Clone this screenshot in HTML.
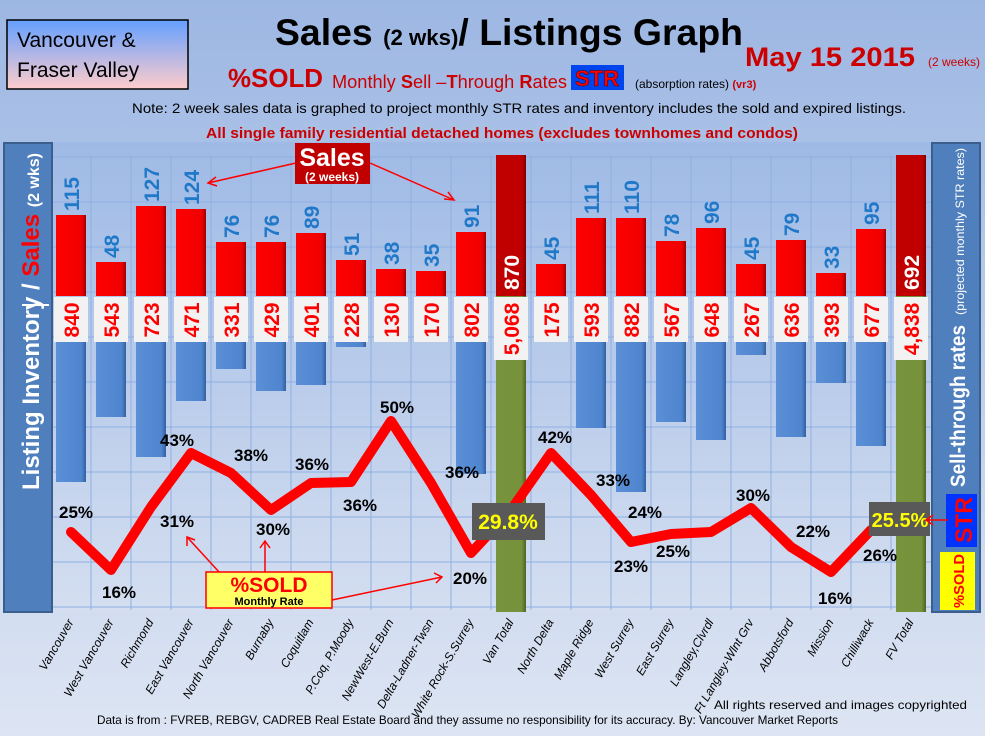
<!DOCTYPE html>
<html><head><meta charset="utf-8"><style>
html,body{margin:0;padding:0;width:985px;height:736px;overflow:hidden;}
svg{display:block;font-family:"Liberation Sans",sans-serif;}
</style></head><body>
<svg width="985" height="736" viewBox="0 0 985 736" xmlns="http://www.w3.org/2000/svg">
<defs>
<linearGradient id="bg" x1="0" y1="0" x2="0" y2="1"><stop offset="0" stop-color="#9db7e3"/><stop offset="1" stop-color="#dde5f3"/></linearGradient>
<linearGradient id="plot" x1="0" y1="0" x2="0" y2="1"><stop offset="0" stop-color="#9fbae6"/><stop offset="1" stop-color="#d4def0"/></linearGradient>
<linearGradient id="tl" x1="0" y1="0" x2="0" y2="1"><stop offset="0" stop-color="#64a0ff"/><stop offset="1" stop-color="#ffcccc"/></linearGradient>
<linearGradient id="red" x1="0" y1="0" x2="1" y2="0"><stop offset="0" stop-color="#ff0000"/><stop offset="0.85" stop-color="#f00000"/><stop offset="1" stop-color="#a00000"/></linearGradient>
<linearGradient id="blue" x1="0" y1="0" x2="1" y2="0"><stop offset="0" stop-color="#5b8fd6"/><stop offset="0.85" stop-color="#4f85cf"/><stop offset="1" stop-color="#34609e"/></linearGradient>
<linearGradient id="dred" x1="0" y1="0" x2="1" y2="0"><stop offset="0" stop-color="#c00000"/><stop offset="0.85" stop-color="#c00000"/><stop offset="1" stop-color="#800000"/></linearGradient>
<linearGradient id="grn" x1="0" y1="0" x2="1" y2="0"><stop offset="0" stop-color="#77933c"/><stop offset="0.85" stop-color="#76923b"/><stop offset="1" stop-color="#4f6226"/></linearGradient>
</defs>
<rect width="985" height="736" fill="url(#bg)"/>
<rect x="52" y="142" width="880" height="470" fill="url(#plot)"/>
<g stroke="#8fb0e2" stroke-width="1">
<line x1="52" y1="157" x2="932" y2="157"/><line x1="52" y1="202" x2="932" y2="202"/><line x1="52" y1="247" x2="932" y2="247"/><line x1="52" y1="292" x2="932" y2="292"/><line x1="52" y1="337" x2="932" y2="337"/><line x1="52" y1="382" x2="932" y2="382"/><line x1="52" y1="427" x2="932" y2="427"/><line x1="52" y1="472" x2="932" y2="472"/><line x1="52" y1="517" x2="932" y2="517"/><line x1="52" y1="562" x2="932" y2="562"/><line x1="52" y1="607" x2="932" y2="607"/>
<line x1="91" y1="155" x2="91" y2="610"/><line x1="131" y1="155" x2="131" y2="610"/><line x1="171" y1="155" x2="171" y2="610"/><line x1="211" y1="155" x2="211" y2="610"/><line x1="251" y1="155" x2="251" y2="610"/><line x1="291" y1="155" x2="291" y2="610"/><line x1="331" y1="155" x2="331" y2="610"/><line x1="371" y1="155" x2="371" y2="610"/><line x1="411" y1="155" x2="411" y2="610"/><line x1="451" y1="155" x2="451" y2="610"/><line x1="491" y1="155" x2="491" y2="610"/><line x1="531" y1="155" x2="531" y2="610"/><line x1="571" y1="155" x2="571" y2="610"/><line x1="611" y1="155" x2="611" y2="610"/><line x1="651" y1="155" x2="651" y2="610"/><line x1="691" y1="155" x2="691" y2="610"/><line x1="731" y1="155" x2="731" y2="610"/><line x1="771" y1="155" x2="771" y2="610"/><line x1="811" y1="155" x2="811" y2="610"/><line x1="851" y1="155" x2="851" y2="610"/><line x1="891" y1="155" x2="891" y2="610"/>
</g>

<g fill="url(#blue)">
<rect x="56" y="300" width="30" height="182"/><rect x="96" y="300" width="30" height="117"/><rect x="136" y="300" width="30" height="157"/><rect x="176" y="300" width="30" height="101"/><rect x="216" y="300" width="30" height="69"/><rect x="256" y="300" width="30" height="91"/><rect x="296" y="300" width="30" height="85"/><rect x="336" y="300" width="30" height="47"/><rect x="456" y="300" width="30" height="174"/><rect x="576" y="300" width="30" height="128"/><rect x="616" y="300" width="30" height="192"/><rect x="656" y="300" width="30" height="122"/><rect x="696" y="300" width="30" height="140"/><rect x="736" y="300" width="30" height="55"/><rect x="776" y="300" width="30" height="137"/><rect x="816" y="300" width="30" height="83"/><rect x="856" y="300" width="30" height="146"/>
</g>
<g fill="url(#red)">
<rect x="56" y="215" width="30" height="81"/><rect x="96" y="262" width="30" height="34"/><rect x="136" y="206" width="30" height="90"/><rect x="176" y="209" width="30" height="87"/><rect x="216" y="242" width="30" height="54"/><rect x="256" y="242" width="30" height="54"/><rect x="296" y="233" width="30" height="63"/><rect x="336" y="260" width="30" height="36"/><rect x="376" y="269" width="30" height="27"/><rect x="416" y="271" width="30" height="25"/><rect x="456" y="232" width="30" height="64"/><rect x="536" y="264" width="30" height="32"/><rect x="576" y="218" width="30" height="78"/><rect x="616" y="218" width="30" height="78"/><rect x="656" y="241" width="30" height="55"/><rect x="696" y="228" width="30" height="68"/><rect x="736" y="264" width="30" height="32"/><rect x="776" y="240" width="30" height="56"/><rect x="816" y="273" width="30" height="23"/><rect x="856" y="229" width="30" height="67"/>
</g>
<rect x="496" y="155" width="30" height="141" fill="url(#dred)"/><rect x="496" y="296" width="30" height="316" fill="url(#grn)"/>
<rect x="896" y="155" width="30" height="141" fill="url(#dred)"/><rect x="896" y="296" width="30" height="316" fill="url(#grn)"/>

<g font-size="21" font-weight="bold" fill="#1f78c8">
<text transform="translate(79,211) rotate(-90)">115</text><text transform="translate(119,258) rotate(-90)">48</text><text transform="translate(159,202) rotate(-90)">127</text><text transform="translate(199,205) rotate(-90)">124</text><text transform="translate(239,238) rotate(-90)">76</text><text transform="translate(279,238) rotate(-90)">76</text><text transform="translate(319,229) rotate(-90)">89</text><text transform="translate(359,256) rotate(-90)">51</text><text transform="translate(399,265) rotate(-90)">38</text><text transform="translate(439,267) rotate(-90)">35</text><text transform="translate(479,228) rotate(-90)">91</text><text transform="translate(559,260) rotate(-90)">45</text><text transform="translate(599,214) rotate(-90)">111</text><text transform="translate(639,214) rotate(-90)">110</text><text transform="translate(679,237) rotate(-90)">78</text><text transform="translate(719,224) rotate(-90)">96</text><text transform="translate(759,260) rotate(-90)">45</text><text transform="translate(799,236) rotate(-90)">79</text><text transform="translate(839,269) rotate(-90)">33</text><text transform="translate(879,225) rotate(-90)">95</text>
</g>
<g font-size="21" font-weight="bold" fill="#fff">
<text transform="translate(519,290) rotate(-90)">870</text><text transform="translate(919,290) rotate(-90)">692</text>
</g>
<g fill="#f2f2f2">
<rect x="54" y="297" width="34" height="45"/><rect x="94" y="297" width="34" height="45"/><rect x="134" y="297" width="34" height="45"/><rect x="174" y="297" width="34" height="45"/><rect x="214" y="297" width="34" height="45"/><rect x="254" y="297" width="34" height="45"/><rect x="294" y="297" width="34" height="45"/><rect x="334" y="297" width="34" height="45"/><rect x="374" y="297" width="34" height="45"/><rect x="414" y="297" width="34" height="45"/><rect x="454" y="297" width="34" height="45"/><rect x="494" y="297" width="34" height="63"/><rect x="534" y="297" width="34" height="45"/><rect x="574" y="297" width="34" height="45"/><rect x="614" y="297" width="34" height="45"/><rect x="654" y="297" width="34" height="45"/><rect x="694" y="297" width="34" height="45"/><rect x="734" y="297" width="34" height="45"/><rect x="774" y="297" width="34" height="45"/><rect x="814" y="297" width="34" height="45"/><rect x="854" y="297" width="34" height="45"/><rect x="894" y="297" width="34" height="63"/>
</g>
<g font-size="21" font-weight="bold" fill="#ff0000" text-anchor="middle">
<text transform="translate(79,320) rotate(-90)">840</text><text transform="translate(119,320) rotate(-90)">543</text><text transform="translate(159,320) rotate(-90)">723</text><text transform="translate(199,320) rotate(-90)">471</text><text transform="translate(239,320) rotate(-90)">331</text><text transform="translate(279,320) rotate(-90)">429</text><text transform="translate(319,320) rotate(-90)">401</text><text transform="translate(359,320) rotate(-90)">228</text><text transform="translate(399,320) rotate(-90)">130</text><text transform="translate(439,320) rotate(-90)">170</text><text transform="translate(479,320) rotate(-90)">802</text><text transform="translate(519,329) rotate(-90)">5,068</text><text transform="translate(559,320) rotate(-90)">175</text><text transform="translate(599,320) rotate(-90)">593</text><text transform="translate(639,320) rotate(-90)">882</text><text transform="translate(679,320) rotate(-90)">567</text><text transform="translate(719,320) rotate(-90)">648</text><text transform="translate(759,320) rotate(-90)">267</text><text transform="translate(799,320) rotate(-90)">636</text><text transform="translate(839,320) rotate(-90)">393</text><text transform="translate(879,320) rotate(-90)">677</text><text transform="translate(919,329) rotate(-90)">4,838</text>
</g>

<polyline points="71,532 111,570 151,507 191,453 231,473 271,510 311,483 351,482 391,421 431,483 471,553 511,510 551,453 591,495 631,542 671,534 711,532 751,508 791,547 831,572 871,530" fill="none" stroke="#ff0000" stroke-width="10" stroke-linejoin="round" stroke-linecap="round"/>
<g font-size="17" font-weight="bold" fill="#000" text-anchor="middle">
<text x="76" y="518">25%</text><text x="119" y="598">16%</text><text x="177" y="527">31%</text><text x="177" y="446">43%</text><text x="251" y="461">38%</text><text x="273" y="535">30%</text><text x="312" y="470">36%</text><text x="360" y="511">36%</text><text x="397" y="413">50%</text><text x="462" y="478">36%</text><text x="470" y="584">20%</text><text x="555" y="443">42%</text><text x="613" y="486">33%</text><text x="631" y="572">23%</text><text x="645" y="518">24%</text><text x="673" y="557">25%</text><text x="753" y="501">30%</text><text x="813" y="537">22%</text><text x="835" y="604">16%</text><text x="880" y="561">26%</text>
</g>
<rect x="472" y="503" width="73" height="37" fill="#595959"/>
<text x="508" y="529" font-size="21" font-weight="bold" fill="#ffff00" text-anchor="middle">29.8%</text>
<rect x="869" y="502" width="61" height="34" fill="#595959"/>
<text x="900" y="527" font-size="20" font-weight="bold" fill="#ffff00" text-anchor="middle">25.5%</text>

<rect x="4" y="143" width="48" height="469" fill="#4f7fbd" stroke="#3a5f8f" stroke-width="2"/>
<text transform="translate(39,490) rotate(-90)" font-size="24" font-weight="bold" fill="#fff" textLength="337" lengthAdjust="spacingAndGlyphs">Listing Inventory / <tspan fill="#ff0000">Sales</tspan> <tspan font-size="16">(2  wks)</tspan></text>
<rect x="932" y="143" width="48" height="469" fill="#4f7fbd" stroke="#3a5f8f" stroke-width="2"/>
<text transform="translate(965,487) rotate(-90)" font-size="21" font-weight="bold" fill="#fff" textLength="162" lengthAdjust="spacingAndGlyphs">Sell-through rates</text>
<text transform="translate(964,315) rotate(-90)" font-size="12" fill="#fff" textLength="167" lengthAdjust="spacingAndGlyphs">(projected monthly STR rates)</text>
<rect x="946" y="494" width="31" height="53" fill="#0033ff"/>
<text transform="translate(972,543) rotate(-90)" font-size="24" font-weight="bold" fill="#ff0000" textLength="46" lengthAdjust="spacingAndGlyphs">STR</text>
<rect x="940" y="552" width="35" height="58" fill="#ffff00"/>
<text transform="translate(964,608) rotate(-90)" font-size="15" font-weight="bold" fill="#ff0000" textLength="54" lengthAdjust="spacingAndGlyphs">%SOLD</text>
<line x1="49" y1="305" x2="22" y2="305" stroke="#fff" stroke-width="2"/>

<g stroke="#ff0000" stroke-width="1.5" fill="none">
<line x1="296" y1="163" x2="208" y2="183"/><polyline points="216,177 208,183 217,186"/>
<line x1="370" y1="163" x2="454" y2="200"/><polyline points="444,199 454,200 448,192"/>
<line x1="220" y1="573" x2="187" y2="537"/><polyline points="187,546 187,537 195,540"/>
<line x1="265" y1="572" x2="265" y2="541"/><polyline points="260,548 265,541 270,548"/>
<line x1="332" y1="600" x2="442" y2="577"/><polyline points="434,573 442,577 436,583"/>
<line x1="926" y1="520" x2="948" y2="520"/><polyline points="933,515 926,520 933,525"/>
</g>
<rect x="295" y="143" width="75" height="41" fill="#c00000"/>
<text x="332" y="166" font-size="25" font-weight="bold" fill="#fff" text-anchor="middle">Sales</text>
<text x="332" y="181" font-size="12" font-weight="bold" fill="#fff" text-anchor="middle">(2 weeks)</text>
<rect x="206" y="572" width="126" height="36" fill="#ffff66" stroke="#ff0000" stroke-width="1.5"/>
<text x="269" y="592" font-size="21" font-weight="bold" fill="#ff0000" text-anchor="middle">%SOLD</text>
<text x="269" y="605" font-size="11" font-weight="bold" fill="#000" text-anchor="middle">Monthly Rate</text>

<rect x="7" y="20" width="181" height="69" fill="url(#tl)" stroke="#000" stroke-width="1.5"/>
<text x="17" y="47" font-size="21" fill="#000">Vancouver &amp;</text>
<text x="17" y="77" font-size="21" fill="#000">Fraser Valley</text>
<text x="275" y="45" font-size="37" font-weight="bold" fill="#000" textLength="468" lengthAdjust="spacingAndGlyphs">Sales <tspan font-size="22">(2 wks)</tspan>/ Listings Graph</text>
<text x="745" y="66" font-size="27" font-weight="bold" fill="#cc0000" textLength="170" lengthAdjust="spacingAndGlyphs">May 15 2015</text>
<text x="928" y="66" font-size="12" fill="#cc0000">(2 weeks)</text>
<text x="228" y="87" font-size="26" font-weight="bold" fill="#cc0000" textLength="95" lengthAdjust="spacingAndGlyphs">%SOLD</text>
<text x="332" y="88" font-size="18" fill="#cc0000" textLength="235" lengthAdjust="spacingAndGlyphs">Monthly <tspan font-weight="bold">S</tspan>ell –<tspan font-weight="bold">T</tspan>hrough <tspan font-weight="bold">R</tspan>ates</text>
<rect x="571" y="65" width="53" height="25" fill="#0044ee"/>
<text x="597" y="86" font-size="22" font-weight="bold" fill="#ff0000" text-anchor="middle" stroke="#400" stroke-width="0.5">STR</text>
<text x="635" y="88" font-size="12" fill="#000">(absorption rates) <tspan fill="#cc0000" font-weight="bold" font-size="11">(vr3)</tspan></text>
<text x="132" y="113" font-size="14" fill="#000" textLength="774" lengthAdjust="spacingAndGlyphs">Note: 2 week sales data is graphed to project monthly STR rates and inventory includes the sold and expired listings.</text>
<text x="206" y="138" font-size="15" font-weight="bold" fill="#cc0000" textLength="592" lengthAdjust="spacingAndGlyphs">All single family residential detached homes (excludes townhomes and condos)</text>

<g font-size="12" font-style="italic" fill="#000" text-anchor="end">
<text transform="translate(74,622) rotate(-60)">Vancouver</text><text transform="translate(114,622) rotate(-60)">West Vancouver</text><text transform="translate(154,622) rotate(-60)">Richmond</text><text transform="translate(194,622) rotate(-60)">East Vancouver</text><text transform="translate(234,622) rotate(-60)">North Vancouver</text><text transform="translate(274,622) rotate(-60)">Burnaby</text><text transform="translate(314,622) rotate(-60)">Coquitlam</text><text transform="translate(354,622) rotate(-60)">P.Coq, P.Moody</text><text transform="translate(394,622) rotate(-60)">NewWest-E.Burn</text><text transform="translate(434,622) rotate(-60)">Delta-Ladner-Twsn</text><text transform="translate(474,622) rotate(-60)">White Rock-S.Surrey</text><text transform="translate(514,622) rotate(-60)">Van Total</text><text transform="translate(554,622) rotate(-60)">North Delta</text><text transform="translate(594,622) rotate(-60)">Maple Ridge</text><text transform="translate(634,622) rotate(-60)">West Surrey</text><text transform="translate(674,622) rotate(-60)">East Surrey</text><text transform="translate(714,622) rotate(-60)">Langley,Clvrdl</text><text transform="translate(754,622) rotate(-60)">Ft Langley-Wlnt Grv</text><text transform="translate(794,622) rotate(-60)">Abbotsford</text><text transform="translate(834,622) rotate(-60)">Mission</text><text transform="translate(874,622) rotate(-60)">Chilliwack</text><text transform="translate(914,622) rotate(-60)">FV Total</text>
</g>
<text x="714" y="709" font-size="12" fill="#000" textLength="253" lengthAdjust="spacingAndGlyphs">All rights reserved and  images copyrighted</text>
<text x="97" y="724" font-size="12" fill="#000" textLength="741" lengthAdjust="spacingAndGlyphs">Data is from : FVREB, REBGV, CADREB Real Estate Board and they assume no responsibility for its accuracy. By: Vancouver Market Reports</text>
</svg>
</body></html>
